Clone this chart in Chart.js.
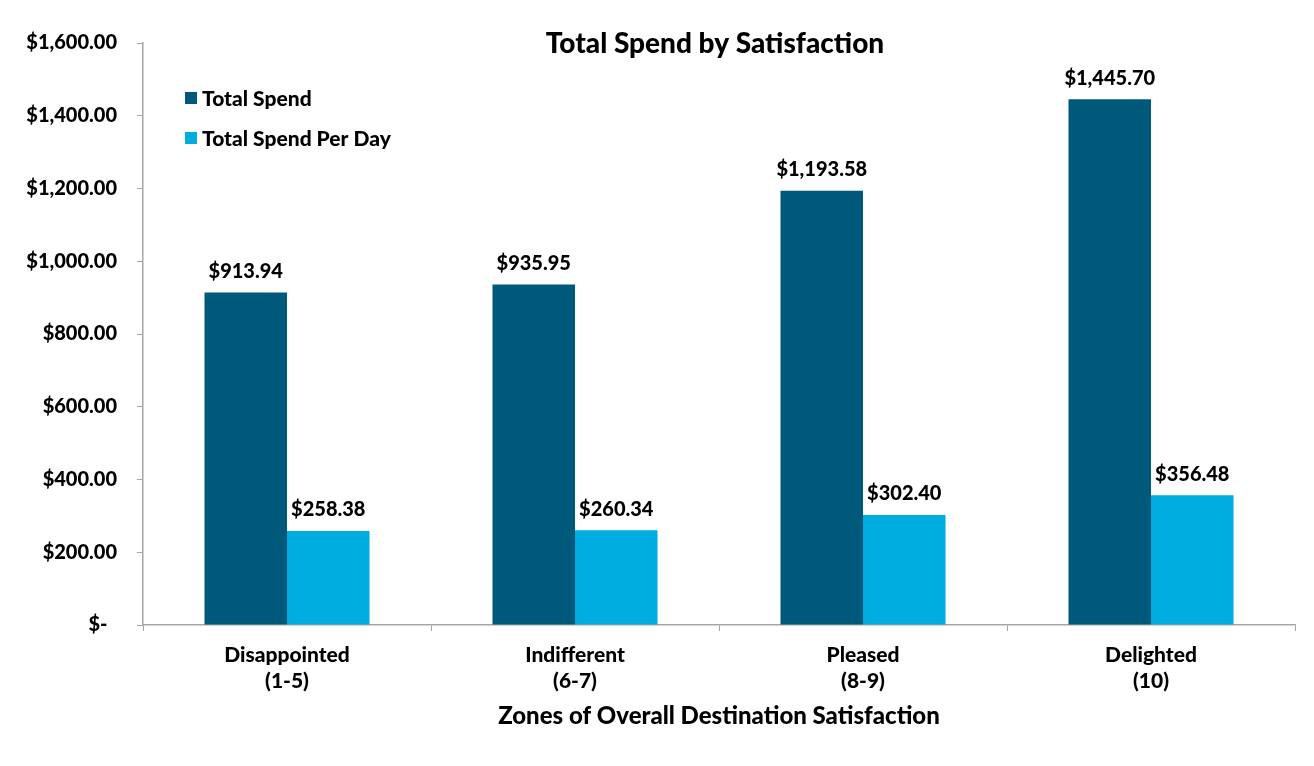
<!DOCTYPE html>
<html>
<head>
<meta charset="utf-8">
<script src="https://cdn.jsdelivr.net/npm/chart.js@4.4.0/dist/chart.umd.min.js"></script>
<style>
html,body{margin:0;padding:0;background:#fff;}
#wrap{width:1314px;height:766px;position:relative;}
</style>
</head>
<body>
<div id="wrap"><canvas id="c" width="1314" height="766"></canvas></div>
<script>
const categories = [["Disappointed","(1-5)"],["Indifferent","(6-7)"],["Pleased","(8-9)"],["Delighted","(10)"]];
const totalSpend = [913.94, 935.95, 1193.58, 1445.70];
const spendPerDay = [258.38, 260.34, 302.40, 356.48];
const seriesNames = ["Total Spend", "Total Spend Per Day"];
const yMin = 0, yMax = 1600, yStep = 200;
const chartTitle = "Total Spend by Satisfaction";
const xTitle = "Zones of Overall Destination Satisfaction";

const FONT = "Lato";
const W = "900";
const darkColor = "#00587A";
const lightColor = "#00ADE1";

function money(v){
  if (v === 0) return "$-  ";
  return "$" + v.toLocaleString("en-US",{minimumFractionDigits:2, maximumFractionDigits:2});
}

const overlay = {
  id: "overlay",
  afterDatasetsDraw(chart){
    const ctx = chart.ctx;
    ctx.save();
    ctx.font = W + " 20px " + FONT;
    ctx.fillStyle = "#000";
    ctx.textAlign = "center";
    ctx.textBaseline = "bottom";
    chart.data.datasets.forEach((ds, i) => {
      const meta = chart.getDatasetMeta(i);
      meta.data.forEach((bar, j) => {
        ctx.fillText(money(ds.data[j]), bar.x, bar.y - 11);
      });
    });
    ctx.font = W + " 28px " + FONT;
    ctx.textBaseline = "middle";
    ctx.fillText(chartTitle, 715, 44);
    ctx.font = W + " 21px " + FONT;
    ctx.textAlign = "left";
    chart.data.datasets.forEach((ds, i) => {
      const y = 98 + i * 40;
      ctx.fillStyle = ds.backgroundColor;
      ctx.fillRect(185, y - 6, 12, 12);
      ctx.fillStyle = "#000";
      ctx.fillText(ds.label, 202, y + 1);
    });
    ctx.restore();
  }
};

new Chart(document.getElementById("c"), {
  type: "bar",
  data: {
    labels: categories,
    datasets: [
      {label: seriesNames[0], data: totalSpend, backgroundColor: darkColor, borderWidth: 0},
      {label: seriesNames[1], data: spendPerDay, backgroundColor: lightColor, borderWidth: 0}
    ]
  },
  options: {
    responsive: false,
    animation: false,
    layout: {padding: {top: 43, right: 19, left: 0, bottom: 0}},
    plugins: {legend: {display: false}, title: {display: false}, tooltip: {enabled: false}},
    datasets: {bar: {categoryPercentage: 0.573, barPercentage: 1.0}},
    scales: {
      x: {
        grid: {display: true, drawOnChartArea: false, drawTicks: true, tickLength: 6, color: "#A6A6A6", offset: true},
        border: {display: true, color: "#A6A6A6", width: 1.5},
        ticks: {font: {family: FONT, size: 21, weight: W, lineHeight: 1.25}, color: "#000", padding: 11, maxRotation: 0},
        title: {display: true, text: xTitle, font: {family: FONT, size: 24, weight: W}, color: "#000", padding: {top: 4, bottom: 35}},
        afterFit(s){ s.height = 141; }
      },
      y: {
        min: yMin, max: yMax,
        grid: {display: true, drawOnChartArea: false, drawTicks: true, tickLength: 6, color: "#A6A6A6"},
        border: {display: true, color: "#A6A6A6", width: 1.5},
        ticks: {stepSize: yStep, font: {family: FONT, size: 20, weight: W}, color: "#000", padding: 20, callback: v => money(v)},
        afterFit(s){ s.width = 143; }
      }
    }
  },
  plugins: [overlay]
});
</script>
</body>
</html>
